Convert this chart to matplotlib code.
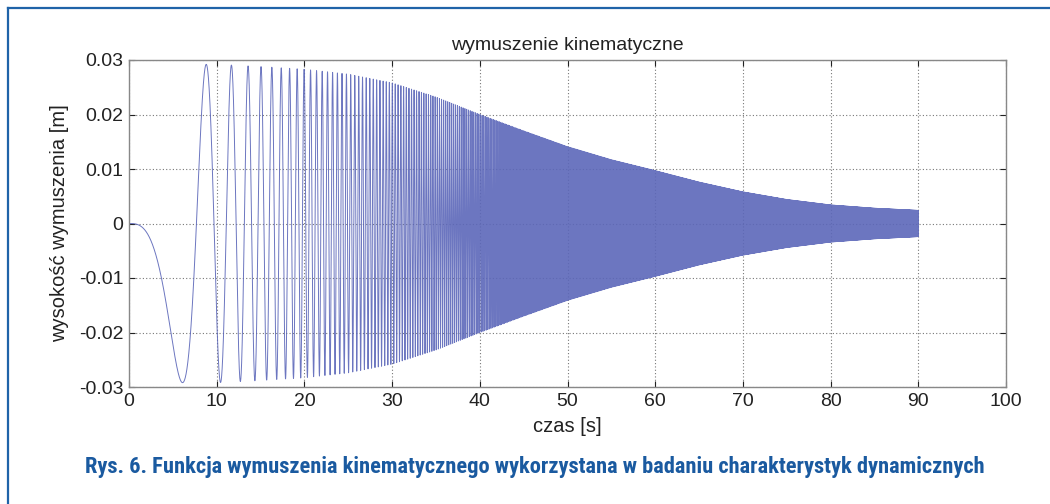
"""Wymuszenie kinematyczne - odtworzenie wykresu (chirp o rosnącej częstotliwości)."""

import matplotlib
matplotlib.use("Agg")
import matplotlib.pyplot as plt
import numpy as np
from matplotlib.lines import Line2D

# chwile kolejnych ekstremów na początku przebiegu (odczyt z rysunku) [s]
extremum_times = [6.0, 8.8, 10.3, 11.7, 12.7, 13.6]
# obwiednia amplitudy
envelope_t = [0, 10, 15, 20, 25, 30, 35, 40, 45, 50, 55, 60, 65, 70, 75, 80, 85, 90]
envelope_amp = [0.0292, 0.0292, 0.0288, 0.0283, 0.0274, 0.0258, 0.0232, 0.0200,
                0.0170, 0.0141, 0.0117, 0.0097, 0.0076, 0.0058, 0.0044, 0.0034,
                0.0028, 0.0024]
t_end = 90.0

xticks = list(range(0, 101, 10))
yticks = [-0.03, -0.02, -0.01, 0, 0.01, 0.02, 0.03]
ytick_labels = ["-0.03", "-0.02", "-0.01", "0", "0.01", "0.02", "0.03"]

# faza ~ c * t^3: dopasowanie c do odczytanych ekstremów (pi/2, 3pi/2, ...)
ext = np.array(extremum_times)
phase_targets = np.pi / 2 + np.pi * np.arange(len(ext))
c = np.sum(phase_targets * ext ** 3) / np.sum(ext ** 6)

t = np.linspace(0, t_end, 240000)
amp = np.interp(t, envelope_t, envelope_amp)
y = -amp * np.sin(c * t ** 3)

plt.rcParams["font.family"] = ["Liberation Sans", "DejaVu Sans"]

fig = plt.figure(figsize=(10.5, 5.04), dpi=100)
ax = fig.add_axes([129 / 1050, 117 / 504, 877 / 1050, 327 / 504])

ax.plot(t, y, color="#5c67b9", linewidth=0.7, alpha=0.9)

ax.set_xlim(0, 100)
ax.set_ylim(-0.03, 0.03)
ax.set_xticks(xticks)
ax.set_yticks(yticks)
ax.set_yticklabels(ytick_labels)
ax.tick_params(labelsize=14, colors="#222222", direction="in", length=4,
               top=True, right=True, pad=4)
ax.grid(True, linestyle=(0, (1, 2)), color="#777777", linewidth=0.8)
for s in ax.spines.values():
    s.set_color("#888888")
    s.set_linewidth(1.0)

ax.set_title("wymuszenie kinematyczne", fontsize=14, color="#222222", pad=7)
ax.set_xlabel("czas [s]", fontsize=14.5, color="#222222", labelpad=5)
ax.set_ylabel("wysokość wymuszenia [m]", fontsize=14.5, color="#222222", labelpad=7)

# ramka rysunku (niebieska linia u góry i z lewej)
frame_color = "#1f63a8"
fig.add_artist(Line2D([8 / 1050, 1.0], [1 - 8 / 504, 1 - 8 / 504],
                      transform=fig.transFigure, color=frame_color, linewidth=1.6))
fig.add_artist(Line2D([8 / 1050, 8 / 1050], [0, 1 - 8 / 504],
                      transform=fig.transFigure, color=frame_color, linewidth=1.6))

fig.text(535 / 1050, 1 - 467 / 504,
         "Rys. 6. Funkcja wymuszenia kinematycznego wykorzystana w badaniu charakterystyk dynamicznych",
         ha="center", va="center", fontsize=16.2, fontweight="bold", color="#1a5aa0",
         family=["Roboto Condensed", "Roboto", "DejaVu Sans"])

fig.savefig("out.png", dpi=100)
